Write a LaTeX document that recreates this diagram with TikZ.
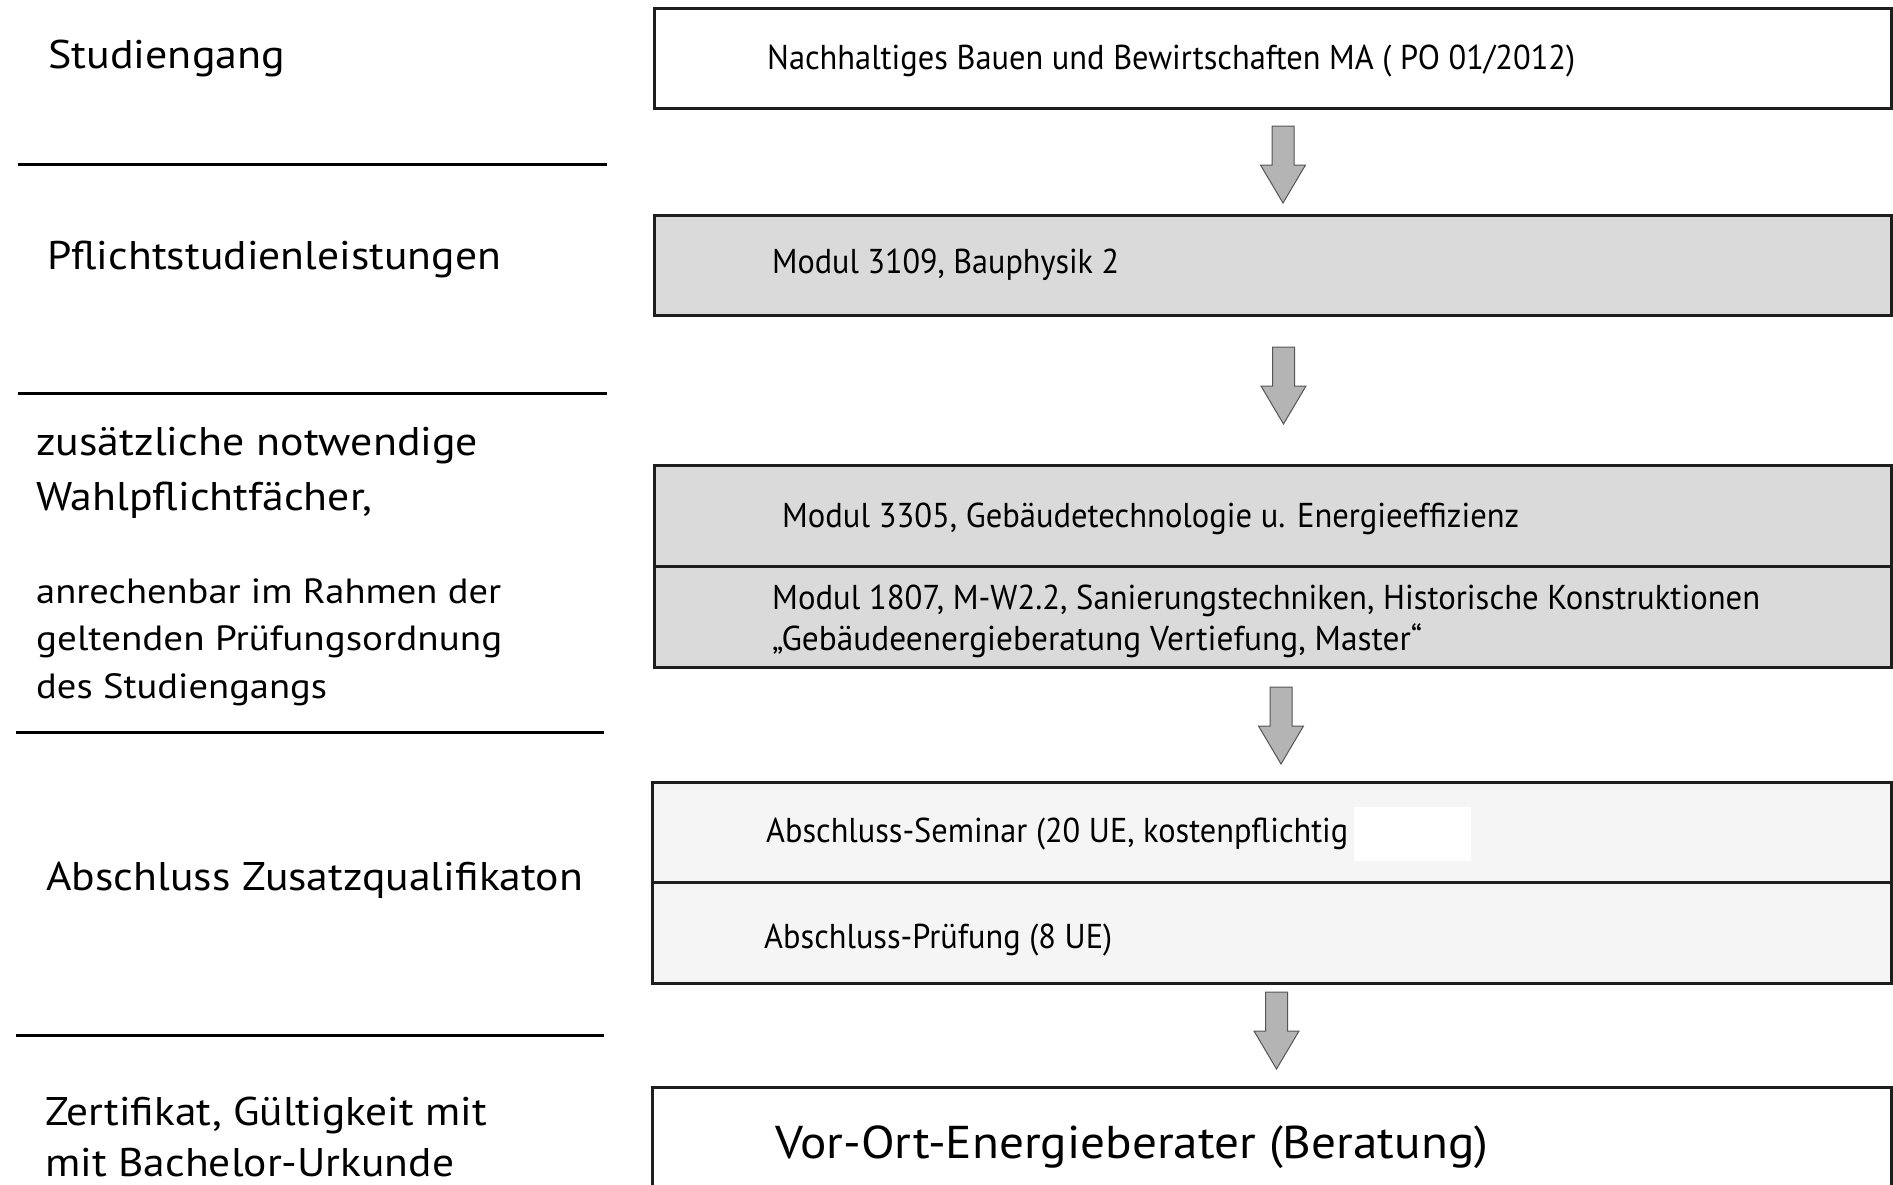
\documentclass[tikz,border=0pt]{standalone}
\usepackage{fontspec}
\setmainfont{PT Sans}
\usepackage{graphicx}
\newlength\fitlen
\newcommand\fitto[2]{\settowidth\fitlen{#2}\pgfmathsetmacro\fitfac{#1/\fitlen}\scalebox{\fitfac}[1]{#2}}
\definecolor{boxline}{HTML}{1E1E1E}
\definecolor{boxgray}{HTML}{DADADA}
\definecolor{boxlight}{HTML}{F5F5F5}
\definecolor{arrowfill}{HTML}{B4B4B4}
\definecolor{arrowline}{HTML}{555555}
\tikzset{
  box/.style={draw=boxline, line width=3pt, inner sep=0pt, outer sep=0pt, rectangle},
  big/.style={anchor=base west, inner sep=0pt, font=\fontsize{40}{42}\selectfont},
  small/.style={anchor=base west, inner sep=0pt, font=\fontsize{35}{37}\selectfont},
  boxtext/.style={anchor=base west, inner sep=0pt, font=\fontsize{34.5}{36}\selectfont},
  result/.style={anchor=base west, inner sep=0pt, font=\fontsize{46}{48}\selectfont},
  sepline/.style={line width=3pt, black},
  pics/darrow/.style={code={
    \draw[fill=arrowfill, draw=arrowline, line width=1pt, line join=miter]
      (-11,0) -- (11,0) -- (11,39) -- (22.5,39) -- (0,77) -- (-22.5,39) -- (-11,39) -- cycle;}}
}
\begin{document}
\begin{tikzpicture}[x=1pt,y=-1pt]
\useasboundingbox[fill=white] (0,0) rectangle (1893,1184);

% boxes
\node[box, fill=white, minimum width=1237pt, minimum height=100pt] (b1) at (1272.5,58) {};
\node[box, fill=boxgray, minimum width=1237pt, minimum height=100pt] (b2) at (1272.5,265) {};
\node[box, fill=boxgray, minimum width=1237pt, minimum height=101pt] (b3a) at (1272.5,515.5) {};
\node[box, fill=boxgray, minimum width=1237pt, minimum height=101pt] (b3b) at (1272.5,616.5) {};
\node[box, fill=boxlight, minimum width=1239pt, minimum height=100pt] (b4a) at (1271.5,832) {};
\node[box, fill=boxlight, minimum width=1239pt, minimum height=101pt] (b4b) at (1271.5,932.5) {};
\node[box, fill=white, minimum width=1239pt, minimum height=113pt] (b5) at (1271.5,1143.5) {};
\node[fill=white, inner sep=0pt, outer sep=0pt, minimum width=117pt, minimum height=54pt] (patch) at (1412.5,834) {};

% block arrows
\pic (a1) at (1283,126) {darrow};
\pic (a2) at (1283.5,347) {darrow};
\pic (a3) at (1281,687) {darrow};
\pic (a4) at (1276.5,992) {darrow};

% box texts
\node[boxtext] (t1) at (767,69) {\fitto{808pt}{Nachhaltiges Bauen und Bewirtschaften MA ( PO 01/2012)}};
\node[boxtext] (t2) at (772,273) {\fitto{347pt}{Modul 3109, Bauphysik 2}};
\node[boxtext] (t3) at (782,527) {\fitto{737pt}{Modul 3305, Gebäudetechnologie u. Energieeffizienz}};
\node[boxtext] (t4) at (772,609) {\fitto{988pt}{Modul 1807, M-W2.2, Sanierungstechniken, Historische Konstruktionen}};
\node[boxtext] (t5) at (772,650) {\fitto{650pt}{„Gebäudeenergieberatung Vertiefung, Master“}};
\node[boxtext] (t6) at (766,842) {\fitto{582pt}{Abschluss-Seminar (20 UE, kostenpflichtig}};
\node[boxtext] (t7) at (764,948) {\fitto{348pt}{Abschluss-Prüfung (8 UE)}};
\node[result] (t8) at (775,1158) {\fitto{713pt}{Vor-Ort-Energieberater (Beratung)}};

% left labels
\node[big] (l1) at (48,68) {\fitto{237pt}{Studiengang}};
\node[big] (l2) at (47,269) {\fitto{454pt}{Pflichtstudienleistungen}};
\node[big] (l3a) at (36,455) {\fitto{442pt}{zusätzliche notwendige}};
\node[big] (l3b) at (36,510) {\fitto{336pt}{Wahlpflichtfächer,}};
\node[small] (l3c) at (36,603) {\fitto{465pt}{anrechenbar im Rahmen der}};
\node[small] (l3d) at (36,650) {\fitto{466pt}{geltenden Prüfungsordnung}};
\node[small] (l3e) at (36,698) {\fitto{291pt}{des Studiengangs}};
\node[big] (l4) at (46,890) {\fitto{537pt}{Abschluss Zusatzqualifikaton}};
\node[big] (l5a) at (45,1125) {\fitto{442pt}{Zertifikat, Gültigkeit mit}};
\node[big] (l5b) at (45,1176) {\fitto{409pt}{mit Bachelor-Urkunde}};

% separator lines
\coordinate (s1a) at (18,164); \coordinate (s1b) at (607,164);
\coordinate (s2a) at (18,393); \coordinate (s2b) at (607,393);
\coordinate (s3a) at (16,732); \coordinate (s3b) at (604,732);
\coordinate (s4a) at (16,1035); \coordinate (s4b) at (604,1035);
\draw[sepline] (s1a) -- (s1b);
\draw[sepline] (s2a) -- (s2b);
\draw[sepline] (s3a) -- (s3b);
\draw[sepline] (s4a) -- (s4b);
\end{tikzpicture}
\end{document}
